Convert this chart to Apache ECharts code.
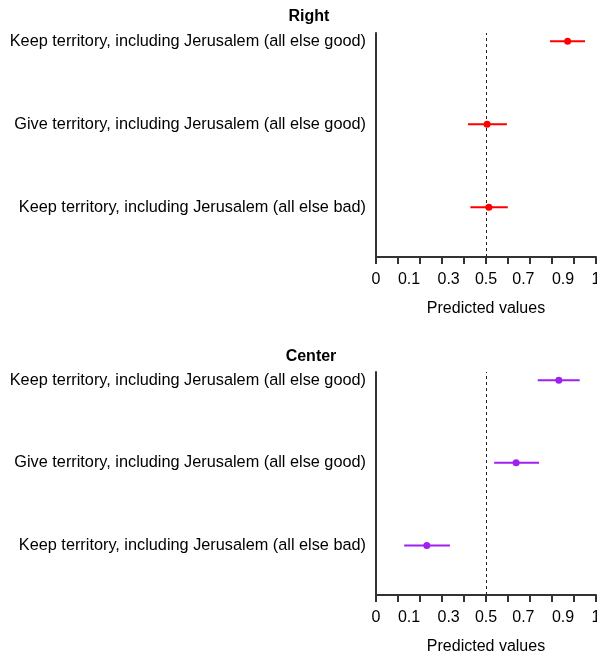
<!DOCTYPE html>
<html>
<head>
<meta charset="utf-8">
<script src="https://cdn.jsdelivr.net/npm/echarts@6/dist/echarts.min.js"></script>
<style>
  html, body { margin: 0; padding: 0; background: #fff; }
  #main { width: 597px; height: 656px; }
</style>
</head>
<body>
<div id="main"></div>
<script>
// rows, top to bottom (y = 3, 2, 1)
var categories = [
  'Keep territory, including Jerusalem (all else bad)',
  'Give territory, including Jerusalem (all else good)',
  'Keep territory, including Jerusalem (all else good)'
];
var rowPos = [1, 2, 3];

// Right panel
var rightEst = [0.513, 0.505, 0.871];
var rightLow = [0.429, 0.418, 0.791];
var rightHigh = [0.599, 0.595, 0.950];

// Center panel
var centerEst = [0.231, 0.637, 0.831];
var centerLow = [0.128, 0.537, 0.735];
var centerHigh = [0.336, 0.741, 0.926];

var tickValues = [0, 0.1, 0.2, 0.3, 0.4, 0.5, 0.6, 0.7, 0.8, 0.9, 1];
var labelValues = [0, 0.15, 0.33, 0.5, 0.67, 0.85, 1];
var labelTexts = ['0', '0.1', '0.3', '0.5', '0.7', '0.9', '1'];

var fontFam = 'Liberation Sans, Arial, sans-serif';
var axisColor = '#333';

function xAxisFor(idx) {
  return {
    type: 'value', gridIndex: idx, min: 0, max: 1,
    name: 'Predicted values', nameLocation: 'middle', nameGap: 44,
    nameTextStyle: { color: '#000', fontSize: 16, fontFamily: fontFam },
    axisLine: { show: true, lineStyle: { color: axisColor, width: 2 } },
    axisTick: { show: true, length: 7, customValues: tickValues,
      lineStyle: { color: axisColor, width: 2 } },
    axisLabel: {
      customValues: labelValues, margin: 15, color: '#000', fontSize: 16, fontFamily: fontFam,
      formatter: function (v) {
        var i = labelValues.indexOf(v);
        return i >= 0 ? labelTexts[i] : '';
      }
    },
    splitLine: { show: false }
  };
}

function yAxisFor(idx) {
  return {
    type: 'value', gridIndex: idx, min: 0.4, max: 3.1,
    axisLine: { show: true, onZero: false, lineStyle: { color: axisColor, width: 2 } },
    axisTick: { show: false },
    axisLabel: {
      customValues: rowPos, margin: 10, color: '#000', fontSize: 16.3, fontFamily: fontFam,
      formatter: function (v) {
        var i = rowPos.indexOf(v);
        return i >= 0 ? categories[i] : '';
      }
    },
    splitLine: { show: false }
  };
}

function barData(low, high) {
  return rowPos.map(function (y, i) { return [low[i], high[i], y]; });
}
function pointData(est) {
  return rowPos.map(function (y, i) { return [est[i], y]; });
}

function errorBars(idx, low, high, color) {
  return {
    type: 'custom', xAxisIndex: idx, yAxisIndex: idx,
    data: barData(low, high),
    encode: { x: [0, 1], y: 2 },
    renderItem: function (params, api) {
      var a = api.coord([api.value(0), api.value(2)]);
      var b = api.coord([api.value(1), api.value(2)]);
      return {
        type: 'line',
        shape: { x1: a[0], y1: a[1], x2: b[0], y2: b[1] },
        style: { stroke: color, lineWidth: 2 }
      };
    },
    silent: true
  };
}

function points(idx, est, color) {
  return {
    type: 'scatter', xAxisIndex: idx, yAxisIndex: idx,
    data: pointData(est), symbolSize: 7,
    itemStyle: { color: color, opacity: 1 },
    z: 5,
    markLine: {
      silent: true, symbol: 'none', label: { show: false },
      lineStyle: { color: '#222', type: [3, 3], width: 1 },
      data: [{ xAxis: 0.5 }]
    }
  };
}

var chart = echarts.init(document.getElementById('main'));
chart.setOption({
  animation: false,
  backgroundColor: '#fff',
  title: [
    { text: 'Right', left: 304, top: 4, textAlign: 'center',
      textStyle: { fontSize: 16, fontWeight: 'bold', color: '#000', fontFamily: fontFam } },
    { text: 'Center', left: 306, top: 344, textAlign: 'center',
      textStyle: { fontSize: 16, fontWeight: 'bold', color: '#000', fontFamily: fontFam } }
  ],
  grid: [
    { left: 376, right: 1, top: 33, height: 224, outerBoundsMode: 'none' },
    { left: 376, right: 1, top: 372, height: 223, outerBoundsMode: 'none' }
  ],
  xAxis: [xAxisFor(0), xAxisFor(1)],
  yAxis: [yAxisFor(0), yAxisFor(1)],
  series: [
    errorBars(0, rightLow, rightHigh, '#ff0000'),
    points(0, rightEst, '#ff0000'),
    errorBars(1, centerLow, centerHigh, '#a020f0'),
    points(1, centerEst, '#a020f0')
  ]
});
</script>
</body>
</html>
